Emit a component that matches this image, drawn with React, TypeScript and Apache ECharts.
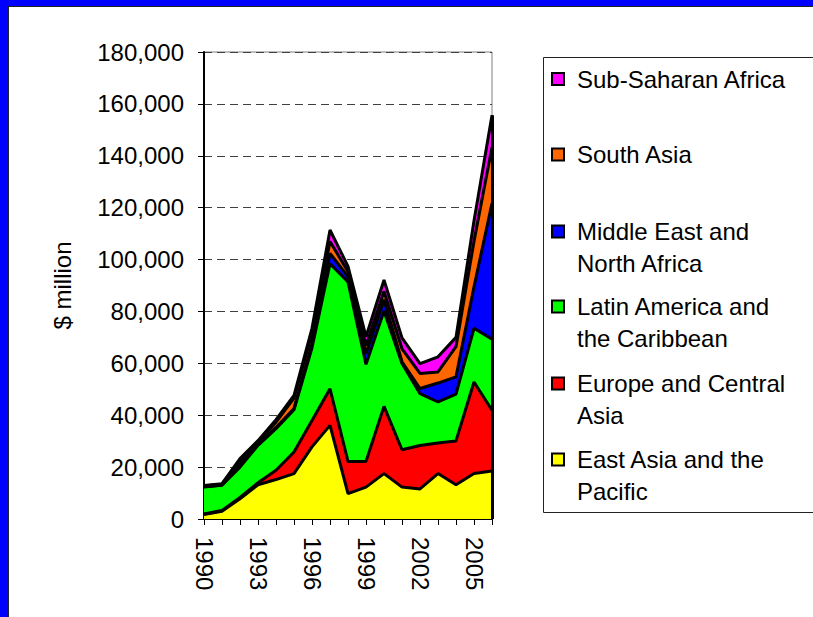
import React, { useEffect, useRef } from "react";
import * as echarts from "echarts";

const years = ["1990","1991","1992","1993","1994","1995","1996","1997","1998","1999","2000","2001","2002","2003","2004","2005","2006"];
const eastAsia = [1700, 3000, 7800, 13200, 15200, 17500, 27800, 36100, 9800, 12300, 17500, 12300, 11600, 17500, 13200, 17500, 18500];
const europe = [200, 300, 500, 800, 3600, 8300, 10200, 14100, 12400, 9900, 25900, 14400, 16700, 11800, 16900, 35300, 23400];
const latin = [10400, 9700, 11700, 14400, 16000, 16300, 28000, 48200, 69200, 37400, 36800, 33200, 20000, 15800, 18000, 20700, 27400];
const mena = [100, 100, 1500, 500, 500, 500, 1500, 4000, 2000, 4200, 4300, 700, 2000, 7300, 6700, 16000, 52400];
const southAsia = [300, 300, 1000, 700, 2000, 4000, 4000, 4600, 1900, 3000, 3200, 5000, 5800, 4300, 11600, 17500, 21600];
const ssa = [200, 200, 800, 600, 1000, 1000, 2000, 4400, 2100, 3500, 4400, 4200, 3800, 5800, 3600, 8000, 12300];

const seriesNames = [
  "East Asia and the Pacific",
  "Europe and Central Asia",
  "Latin America and the Caribbean",
  "Middle East and North Africa",
  "South Asia",
  "Sub-Saharan Africa",
];
const legendLines = [
  ["East Asia and the", "Pacific"],
  ["Europe and Central", "Asia"],
  ["Latin America and", "the Caribbean"],
  ["Middle East and", "North Africa"],
  ["South Asia"],
  ["Sub-Saharan Africa"],
];
const seriesData = [eastAsia, europe, latin, mena, southAsia, ssa];
const colors = ["#FFFF00", "#FF0000", "#00FF00", "#0000FF", "#FF6600", "#FF00FF"];
const yTicks = { min: 0, max: 180000, interval: 20000 };

const FONT = "Liberation Sans";
const FS = 24;

export default function App() {
  const ref = useRef<HTMLDivElement>(null);
  useEffect(() => {
    if (!ref.current) return;
    const chart = echarts.init(ref.current, undefined, { renderer: "svg" });
    const last = years.length - 1;
    const total = seriesData.reduce((s, arr) => s + arr[last], 0);

    const areaSeries = seriesData.map((d, i) => ({
      name: seriesNames[i],
      type: "line",
      stack: "area",
      data: d,
      symbol: "none",
      lineStyle: { width: 0 },
      areaStyle: { color: colors[i], opacity: 1 },
      itemStyle: { color: colors[i] },
      z: 2,
    }));
    const lineSeries = seriesData.map((d, i) => ({
      name: seriesNames[i] + " line",
      type: "line",
      stack: "lines",
      data: d,
      symbol: "none",
      lineStyle: { width: 3, color: "#000" },
      z: 3,
      markLine:
        i === seriesData.length - 1
          ? {
              symbol: "none",
              silent: true,
              label: { show: false },
              lineStyle: { color: "#000", width: 3, type: "solid" },
              data: [[{ coord: [years[last], 0] }, { coord: [years[last], total] }]],
            }
          : undefined,
    }));

    const firstLineY = [79, 154.5, 231.5, 306.5, 383.5, 459.5];
    const legendEls: any[] = [
      {
        type: "rect",
        shape: { x: 543.5, y: 57.5, width: 300, height: 455 },
        style: { fill: "#fff", stroke: "#222", lineWidth: 1 },
        z: 10,
      },
    ];
    const order = [5, 4, 3, 2, 1, 0];
    order.forEach((si, k) => {
      const cy = firstLineY[k];
      legendEls.push({
        type: "rect",
        shape: { x: 552, y: cy - 6, width: 12, height: 12 },
        style: { fill: colors[si], stroke: "#000", lineWidth: 2 },
        z: 11,
      });
      legendLines[si].forEach((t, j) => {
        legendEls.push({
          type: "text",
          x: 577,
          y: cy + j * 31.5,
          style: {
            text: t,
            fill: "#000",
            font: `${FS}px "${FONT}"`,
            textVerticalAlign: "middle",
            textAlign: "left",
          },
          z: 11,
        });
      });
    });

    chart.setOption({
      animation: false,
      backgroundColor: "transparent",
      textStyle: { fontFamily: FONT },
      grid: {
        left: 204,
        top: 52,
        width: 288,
        height: 467,
        show: true,
        borderColor: "#808080",
        borderWidth: 1,
        backgroundColor: "transparent",
      },
      xAxis: {
        type: "category",
        data: years,
        boundaryGap: false,
        axisLine: { lineStyle: { color: "#000", width: 2 } },
        axisTick: { show: true, interval: 0, length: 6, lineStyle: { color: "#000" } },
        axisLabel: {
          interval: 2,
          rotate: -90,
          margin: 18,
          color: "#000",
          fontSize: FS,
          fontFamily: FONT,
        },
        splitLine: { show: false },
      },
      yAxis: {
        type: "value",
        min: yTicks.min,
        max: yTicks.max,
        interval: yTicks.interval,
        name: "$ million",
        nameLocation: "middle",
        nameRotate: 90,
        nameGap: 130,
        nameTextStyle: { color: "#000", fontSize: FS, fontFamily: FONT },
        axisLine: { show: true, lineStyle: { color: "#000", width: 2 } },
        axisTick: { show: true, length: 6, lineStyle: { color: "#000" } },
        axisLabel: {
          margin: 20,
          color: "#000",
          fontSize: FS,
          fontFamily: FONT,
          formatter: (v: number) => v.toLocaleString("en-US"),
        },
        splitLine: {
          show: true,
          lineStyle: { color: "#404040", type: [8, 5], width: 1 },
        },
      },
      series: [...areaSeries, ...lineSeries],
      graphic: legendEls,
    });
    return () => chart.dispose();
  }, []);

  return (
    <div style={{ position: "absolute", left: 0, top: 0, width: 813, height: 617, background: "#0000FF", overflow: "hidden" }}>
      <div
        style={{
          position: "absolute",
          left: 8,
          top: 6,
          right: 0,
          bottom: 0,
          background: "#fff",
          borderLeft: "1px solid #222",
          borderTop: "1px solid #222",
        }}
      />
      <div ref={ref} style={{ position: "absolute", left: 0, top: 0, width: 813, height: 617 }} />
    </div>
  );
}
